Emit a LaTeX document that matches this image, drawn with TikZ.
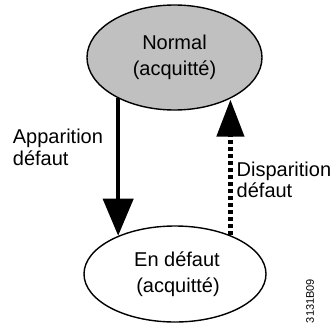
\documentclass[tikz,border=0pt]{standalone}
\usepackage{fontspec}
\setmainfont{Liberation Sans}
\usetikzlibrary{shapes.geometric,arrows.meta}
\definecolor{stategray}{HTML}{C0C0C0}
\tikzset{
  state/.style={draw=black, line width=1.4pt, ellipse, inner sep=0pt, align=center,
    font=\fontsize{20pt}{26pt}\selectfont},
  lbl/.style={inner sep=0pt, align=left, anchor=base west,
    font=\fontsize{20pt}{21.5pt}\selectfont},
  solidarrow/.style={line width=4pt, -{Triangle[width=30pt,length=37pt]}},
  dottedarrow/.style={line width=4.5pt, dash pattern=on 4pt off 3pt, -{Triangle[width=27pt,length=37pt]}},
}
\begin{document}
\begin{tikzpicture}[x=1pt,y=-1pt]
\useasboundingbox (0,0) rectangle (336,326);
\node[state, fill=stategray, minimum width=175pt, minimum height=105pt] (normal) at (174.5,57.5) {Normal\\(acquitté)};
\node[state, fill=white, minimum width=182pt, minimum height=96pt] (defaut) at (175,274) {\hspace*{4pt}En défaut\\\hspace*{6pt}(acquitté)};
\draw[solidarrow] (normal.216) -- (normal.216 |- defaut.146);
\draw[dottedarrow] (defaut.35.6) -- (defaut.35.6 |- normal.322.3);
\node[lbl] (apparition) at (12.7,165) {Apparition\\défaut};
\node[lbl] (disparition) at (236.5,197.5) {Disparition\\défaut};
\node[inner sep=0pt, rotate=90, font=\fontsize{11pt}{12pt}\selectfont] (ref) at (310,301) {3131B09};
\end{tikzpicture}
\end{document}
